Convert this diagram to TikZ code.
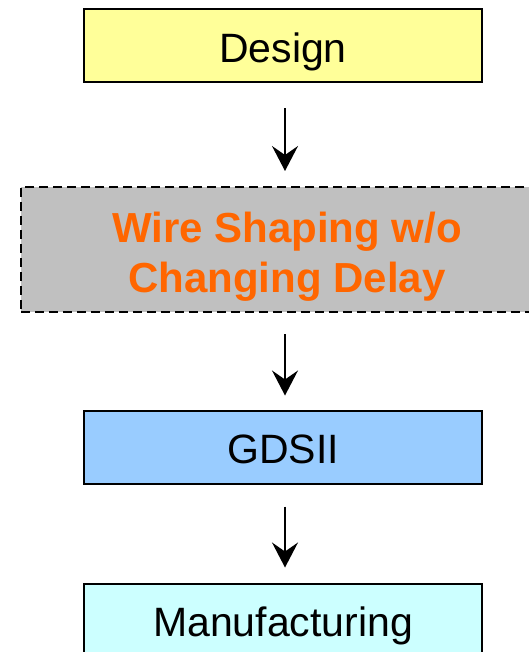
\documentclass[tikz,border=0pt]{standalone}
\usepackage{fontspec}
\setmainfont{Liberation Sans}
\usetikzlibrary{arrows.meta}
\definecolor{designfill}{HTML}{FFFF99}
\definecolor{shapefill}{HTML}{C0C0C0}
\definecolor{shapetext}{HTML}{FF6600}
\definecolor{gdsfill}{HTML}{99CCFF}
\definecolor{mfgfill}{HTML}{CCFFFF}
\begin{document}
\begin{tikzpicture}[x=1pt,y=-1pt,
  stagebox/.style={draw=black, line width=2pt, minimum width=398pt, minimum height=73pt,
    inner sep=0pt, text height=33pt, text depth=0pt, font=\fontsize{41}{49}\selectfont},
  flowarrow/.style={line width=1.5pt, -{Stealth[length=25pt,width=26pt,inset=9pt]}}]
  \useasboundingbox (0,0) rectangle (529,652);
  \node[stagebox, fill=designfill] (design) at (283,46) {Design};
  % the invisible rule in the first line pushes both lines a little lower in the box
  \node[draw=black, line width=2pt, dash pattern=on 9pt off 5pt, fill=shapefill,
    minimum width=532pt, minimum height=125pt, inner sep=0pt,
    text=shapetext, font=\fontsize{42}{50}\selectfont\bfseries]
    (shaping) at (287,249.5)
    {\begin{tabular}{@{}c@{}}\rule{0pt}{51pt}Wire Shaping w/o\\Changing Delay\end{tabular}};
  \node[stagebox, fill=gdsfill] (gds) at (283,447) {GDSII};
  \node[stagebox, fill=mfgfill] (mfg) at (283,620) {Manufacturing};
  \draw[flowarrow] ([xshift=2pt,yshift=-25pt]design.south) -- ([xshift=2pt,yshift=15pt]shaping.north -| design.south);
  \draw[flowarrow] ([xshift=2pt,yshift=-21pt]shaping.south -| gds.north) -- ([xshift=2pt,yshift=14pt]gds.north);
  \draw[flowarrow] ([xshift=2pt,yshift=-22pt]gds.south) -- ([xshift=2pt,yshift=15pt]mfg.north);
\end{tikzpicture}
\end{document}
